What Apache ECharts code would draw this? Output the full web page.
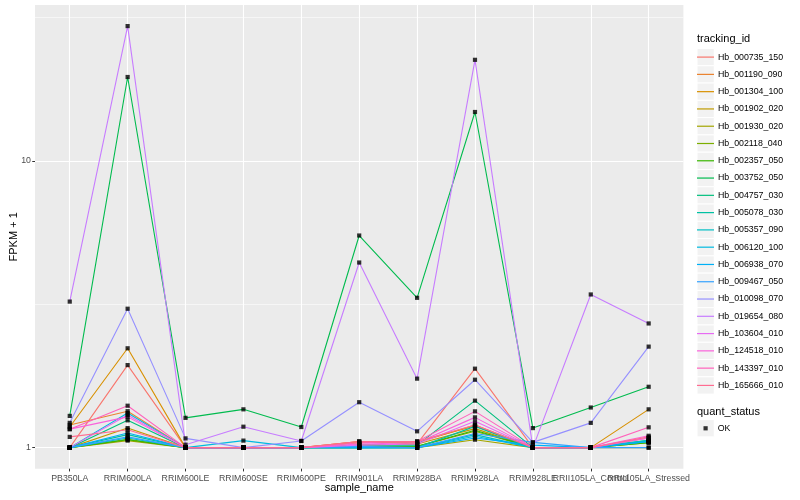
<!DOCTYPE html>
<html><head><meta charset="utf-8">
<script src="https://cdn.jsdelivr.net/npm/echarts@6/dist/echarts.min.js"></script>
<style>html,body{margin:0;padding:0;background:#fff}#c{width:800px;height:500px}</style>
</head><body><div id="c"></div>
<script>
const categories = ['PB350LA','RRIM600LA','RRIM600LE','RRIM600SE','RRIM600PE','RRIM901LA','RRIM928BA','RRIM928LA','RRIM928LE','RRII105LA_Control','RRII105LA_Stressed'];
const trackingIds = ['Hb_000735_150','Hb_001190_090','Hb_001304_100','Hb_001902_020','Hb_001930_020','Hb_002118_040','Hb_002357_050','Hb_003752_050','Hb_004757_030','Hb_005078_030','Hb_005357_090','Hb_006120_100','Hb_006938_070','Hb_009467_050','Hb_010098_070','Hb_019654_080','Hb_103604_010','Hb_124518_010','Hb_143397_010','Hb_165666_010'];
const colors = ['#F8766D','#EA8331','#D89000','#C09B00','#A3A500','#7CAE00','#39B600','#00BB4E','#00BF7D','#00C1A3','#00BFC4','#00BAE0','#00B0F6','#35A2FF','#9590FF','#C77CFF','#E76BF3','#FA62DB','#FF62BC','#FF6C91'];

// FPKM + 1 values, one array per tracking_id (order = categories)
const Hb_000735_150 = [1.00, 1.94, 1.00, 1.00, 1.00, 1.05, 1.03, 1.885, 1.00, 1.00, 1.08];
const Hb_001190_090 = [1.20, 1.34, 1.00, 1.00, 1.00, 1.05, 1.04, 1.20, 1.00, 1.00, 1.05];
const Hb_001304_100 = [1.18, 2.22, 1.00, 1.00, 1.00, 1.04, 1.05, 1.19, 1.00, 1.00, 1.36];
const Hb_001902_020 = [1.00, 1.17, 1.00, 1.00, 1.00, 1.02, 1.03, 1.165, 1.00, 1.00, 1.05];
const Hb_001930_020 = [1.00, 1.058, 1.00, 1.00, 1.00, 1.00, 1.00, 1.066, 1.00, 1.00, 1.00];
const Hb_002118_040 = [1.00, 1.07, 1.00, 1.00, 1.00, 1.00, 1.01, 1.14, 1.00, 1.00, 1.04];
const Hb_002357_050 = [1.00, 1.065, 1.00, 1.00, 1.00, 1.01, 1.01, 1.15, 1.00, 1.00, 1.04];
const Hb_003752_050 = [1.29, 19.6, 1.27, 1.36, 1.18, 5.49, 3.33, 14.8, 1.17, 1.38, 1.63];
const Hb_004757_030 = [1.00, 1.245, 1.00, 1.00, 1.00, 1.02, 1.02, 1.458, 1.00, 1.00, 1.06];
const Hb_005078_030 = [1.00, 1.11, 1.00, 1.00, 1.00, 1.00, 1.00, 1.186, 1.00, 1.00, 1.05];
const Hb_005357_090 = [1.00, 1.08, 1.00, 1.00, 1.00, 1.00, 1.00, 1.11, 1.00, 1.00, 1.06];
const Hb_006120_100 = [1.00, 1.32, 1.00, 1.058, 1.00, 1.00, 1.00, 1.095, 1.00, 1.00, 1.05];
const Hb_006938_070 = [1.00, 1.125, 1.00, 1.00, 1.00, 1.00, 1.00, 1.08, 1.02, 1.00, 1.05];
const Hb_009467_050 = [1.00, 1.09, 1.00, 1.00, 1.00, 1.01, 1.00, 1.12, 1.043, 1.00, 1.00];
const Hb_010098_070 = [1.22, 3.05, 1.077, 1.00, 1.055, 1.44, 1.14, 1.725, 1.043, 1.22, 2.25];
const Hb_019654_080 = [3.23, 29.5, 1.024, 1.183, 1.055, 4.42, 1.74, 22.5, 1.00, 3.42, 2.71];
const Hb_103604_010 = [1.00, 1.30, 1.00, 1.00, 1.00, 1.02, 1.03, 1.235, 1.00, 1.00, 1.08];
const Hb_124518_010 = [1.16, 1.28, 1.00, 1.00, 1.00, 1.03, 1.04, 1.275, 1.00, 1.00, 1.10];
const Hb_143397_010 = [1.16, 1.40, 1.00, 1.00, 1.00, 1.04, 1.05, 1.338, 1.00, 1.00, 1.177];
const Hb_165666_010 = [1.09, 1.155, 1.00, 1.00, 1.00, 1.05, 1.05, 1.20, 1.00, 1.00, 1.09];

const seriesValues = [Hb_000735_150,Hb_001190_090,Hb_001304_100,Hb_001902_020,Hb_001930_020,Hb_002118_040,Hb_002357_050,Hb_003752_050,Hb_004757_030,Hb_005078_030,Hb_005357_090,Hb_006120_100,Hb_006938_070,Hb_009467_050,Hb_010098_070,Hb_019654_080,Hb_103604_010,Hb_124518_010,Hb_143397_010,Hb_165666_010];
const yMajorTicks = [1, 10];
const yMinorTicks = [3.1623, 31.623];
const quantStatus = ['OK'];

const FONT = '"Liberation Sans", Arial, Helvetica, sans-serif';
const catIdx = categories.map((c, i) => i);
const evenIdx = catIdx.filter(i => i % 2 === 0);
const oddIdx = catIdx.filter(i => i % 2 === 1);

const lineSeries = trackingIds.map((id, k) => ({
  name: id, type: 'line', xAxisIndex: 0, yAxisIndex: 0,
  data: seriesValues[k].map((v, i) => [i, v]),
  showSymbol: false, symbol: 'none',
  lineStyle: {color: colors[k], width: 1.1},
  itemStyle: {color: colors[k]},
  emphasis: {disabled: true}, silent: true, z: 2
}));
const pointData = [];
seriesValues.forEach(arr => arr.forEach((v, i) => pointData.push([i, v])));
const pointSeries = {
  name: quantStatus[0], type: 'scatter', data: pointData,
  symbol: 'rect', symbolSize: 4.2, itemStyle: {color: '#000'}, z: 5, silent: true
};

const keyRects = trackingIds.map((id, k) => ({
  type: 'rect', shape: {x: 697, y: 48.5 + k * 17.28, width: 17.28, height: 17.28},
  style: {fill: '#F2F2F2', stroke: '#fff', lineWidth: 1}, z: 0
}));
keyRects.push({type: 'rect', shape: {x: 697, y: 419.6, width: 17.28, height: 17.28},
  style: {fill: '#F2F2F2', stroke: '#fff', lineWidth: 1}, z: 0});

const xLabelStyle = {fontSize: 8.8, color: '#4D4D4D', margin: 5, fontFamily: FONT, hideOverlap: false};
const yLabelStyle = {fontSize: 8.8, color: '#4D4D4D', margin: 4, fontFamily: FONT, hideOverlap: false};

const chart = echarts.init(document.getElementById('c'), null, {renderer: 'canvas'});
chart.setOption({
  animation: false,
  backgroundColor: '#fff',
  textStyle: {fontFamily: FONT},
  grid: {left: 35, right: 116.6, top: 5, bottom: 31.3, show: true, backgroundColor: '#EBEBEB', borderWidth: 0,
         containLabel: false, outerBoundsMode: 'none'},
  title: [
    {text: 'tracking_id', left: 697, top: 33, padding: 0, textStyle: {fontSize: 11, fontWeight: 'normal', color: '#000', fontFamily: FONT}},
    {text: 'quant_status', left: 697, top: 406, padding: 0, textStyle: {fontSize: 11, fontWeight: 'normal', color: '#000', fontFamily: FONT}}
  ],
  graphic: keyRects,
  legend: [
    {data: trackingIds, orient: 'vertical', left: 697, top: 51.1, padding: 0, itemGap: 5.28,
     itemWidth: 17, itemHeight: 1.2, icon: 'rect', selectedMode: false,
     textStyle: {fontSize: 8.8, color: '#000', lineHeight: 12, fontFamily: FONT, padding: [0, 0, 0, -1]}},
    {data: quantStatus, orient: 'vertical', left: 703.5, top: 422.3, padding: 0,
     itemWidth: 4.2, itemHeight: 4.2, icon: 'rect', selectedMode: false,
     textStyle: {fontSize: 8.8, color: '#000', lineHeight: 12, fontFamily: FONT, padding: [0, 0, 0, 5]}}
  ],
  xAxis: [
    {type: 'value', min: -0.6, max: 10.6, position: 'bottom',
     name: 'sample_name', nameLocation: 'middle', nameGap: 13.5, nameMoveOverlap: false,
     nameTextStyle: {fontSize: 11, color: '#000', fontFamily: FONT},
     axisLine: {show: false, onZero: false},
     axisTick: {show: true, customValues: catIdx, length: 2.75, lineStyle: {color: '#333333', width: 1}},
     axisLabel: Object.assign({customValues: evenIdx, formatter: v => categories[Math.round(v)]}, xLabelStyle),
     splitLine: {show: true, lineStyle: {color: '#fff', width: 1.1}}
    },
    {type: 'value', min: -0.6, max: 10.6, position: 'bottom',
     axisLine: {show: false, onZero: false},
     axisTick: {show: false, customValues: oddIdx},
     axisLabel: Object.assign({customValues: oddIdx, formatter: v => categories[Math.round(v)]}, xLabelStyle),
     splitLine: {show: false}
    }
  ],
  yAxis: [
    {type: 'log', logBase: 10, min: 0.8444, max: 34.94,
     name: 'FPKM + 1', nameLocation: 'middle', nameGap: 16, nameRotate: 90, nameMoveOverlap: false,
     nameTextStyle: {fontSize: 11, color: '#000', fontFamily: FONT},
     axisLine: {show: false, onZero: false},
     axisTick: {show: true, customValues: yMajorTicks, length: 2.75, lineStyle: {color: '#333333', width: 1}},
     axisLabel: Object.assign({customValues: yMajorTicks, formatter: v => String(Math.round(v))}, yLabelStyle),
     splitLine: {show: true, lineStyle: {color: '#fff', width: 1.1}}
    },
    {type: 'log', logBase: 10, min: 0.8444, max: 34.94, position: 'left',
     axisLine: {show: false, onZero: false},
     axisTick: {show: false, customValues: yMinorTicks},
     axisLabel: {show: false, customValues: yMinorTicks},
     splitLine: {show: true, lineStyle: {color: '#fff', width: 0.55}}
    }
  ],
  series: lineSeries.concat([pointSeries])
});
</script></body></html>
